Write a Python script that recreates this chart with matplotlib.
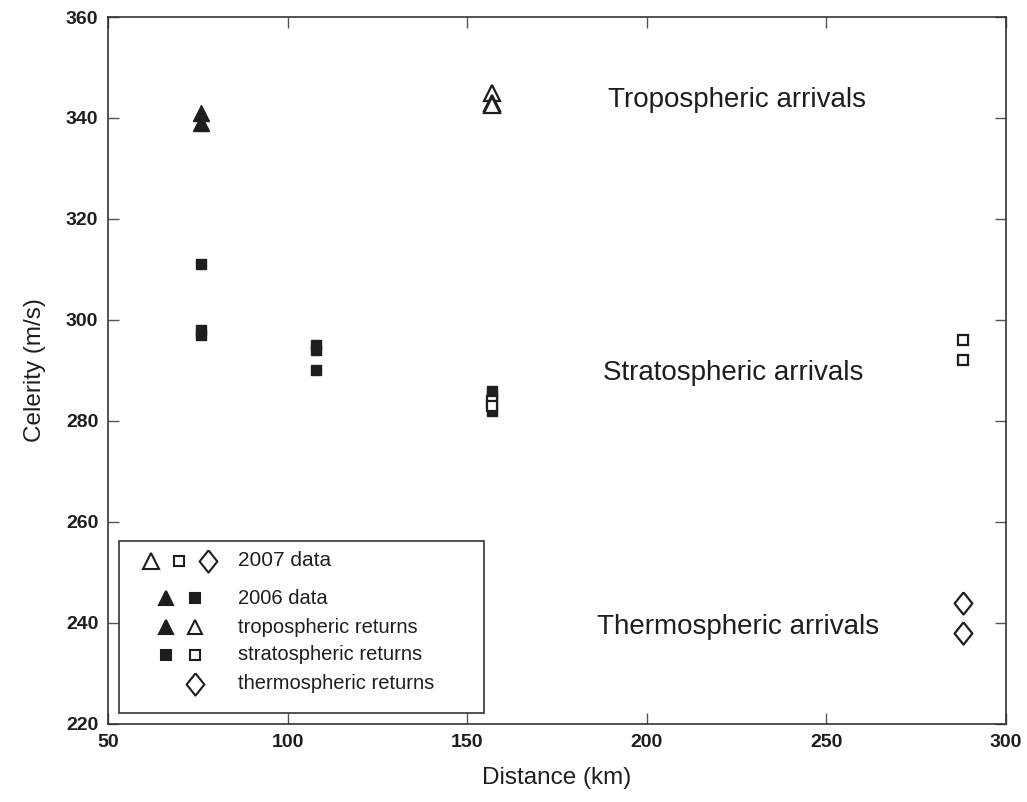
import matplotlib
matplotlib.use("Agg")
import matplotlib.pyplot as plt
from matplotlib.patches import Rectangle

plt.rcParams['font.family'] = ['Liberation Sans', 'DejaVu Sans']

# 2006 data (filled markers)
tropo06_x = [76, 76]
tropo06_y = [341, 339]
strat06_x = [76, 76, 76, 108, 108, 108, 157, 157, 157]
strat06_y = [311, 298, 297, 295, 294, 290, 286, 285, 282]

# 2007 data (open markers)
tropo07_x = [157, 157, 157]
tropo07_y = [345, 343, 342.5]
strat07_x = [157, 157, 288, 288]
strat07_y = [284, 283, 296, 292]
thermo07_x = [288, 288]
thermo07_y = [244, 238]

xticks = [50, 100, 150, 200, 250, 300]
yticks = [220, 240, 260, 280, 300, 320, 340, 360]

ink = '#1e1e1e'
diamond = [(0, 1), (0.8, 0), (0, -1), (-0.8, 0), (0, 1)]

fig = plt.figure(figsize=(10.27, 8.02), dpi=100)
ax = fig.add_axes([0.1052, 0.0973, 0.8744, 0.8815])

ax.plot(tropo06_x, tropo06_y, '^', ms=11, mfc=ink, mec=ink, ls='none')
ax.plot(strat06_x, strat06_y, 's', ms=7.5, mfc=ink, mec=ink, ls='none')
ax.plot(tropo07_x, tropo07_y, '^', ms=12, mfc='white', mec=ink, mew=1.6, ls='none')
ax.plot(strat07_x, strat07_y, 's', ms=7.5, mfc='white', mec=ink, mew=1.6, ls='none')
ax.plot(thermo07_x, thermo07_y, marker=diamond, ms=16, mfc='white', mec=ink, mew=1.6, ls='none')

ax.text(225, 343.6, 'Tropospheric arrivals', fontsize=20, color=ink, ha='center', va='center')
ax.text(224, 289.5, 'Stratospheric arrivals', fontsize=20, color=ink, ha='center', va='center')
ax.text(225.5, 239.2, 'Thermospheric arrivals', fontsize=20, color=ink, ha='center', va='center')

ax.set_xlim(50, 300)
ax.set_ylim(220, 360)
ax.set_xticks(xticks)
ax.set_yticks(yticks)
ax.tick_params(direction='in', length=8, width=1, color='#555555', top=True, right=True,
               labelsize=14, pad=7)
for lab in ax.get_xticklabels() + ax.get_yticklabels():
    lab.set_fontweight('bold')
    lab.set_color(ink)
for sp in ax.spines.values():
    sp.set_color('#333333')
    sp.set_linewidth(1.2)

ax.set_xlabel('Distance (km)', fontsize=17.5, color=ink, labelpad=12)
ax.set_ylabel('Celerity (m/s)', fontsize=17.5, color=ink, labelpad=14)

# hand-made legend box
tr = ax.transAxes
ax.add_patch(Rectangle((0.0122, 0.0156), 0.406, 0.243, transform=tr, fill=False,
                       ec='#333333', lw=1.2, zorder=5))
rows = [
    (0.2306, [(0.0479, '^', 'white', 11), (0.079, 's', 'white', 7.5), (0.1114, diamond, 'white', 16)], '2007 data', 15),
    (0.178, [(0.0646, '^', ink, 10), (0.0969, 's', ink, 7.5)], '2006 data', 14.5),
    (0.137, [(0.0646, '^', ink, 10), (0.0969, '^', 'white', 10)], 'tropospheric returns', 14.5),
    (0.0976, [(0.0646, 's', ink, 7.5), (0.0969, 's', 'white', 7.5)], 'stratospheric returns', 14.5),
    (0.0566, [(0.0969, diamond, 'white', 16)], 'thermospheric returns', 14.5),
]
for y, marks, label, fs in rows:
    for x, m, fc, ms in marks:
        ax.plot([x], [y], marker=m, ms=ms, mfc=fc, mec=ink, mew=1.5, ls='none',
                transform=tr, clip_on=False, zorder=6)
    ax.text(0.1448, y, label, fontsize=fs, color=ink, va='center', transform=tr, zorder=6)

fig.savefig('out.png', dpi=100)
